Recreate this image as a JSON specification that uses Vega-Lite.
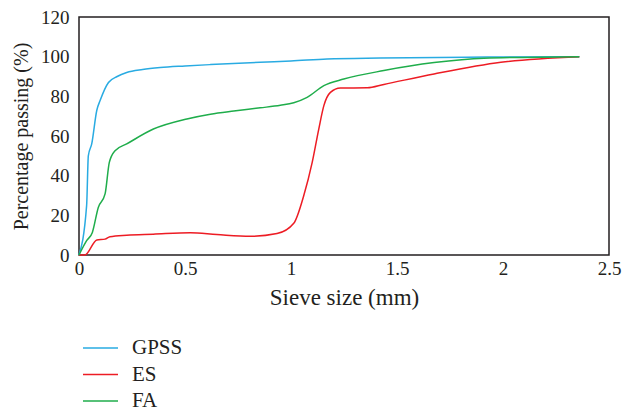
{
  "$schema": "https://vega.github.io/schema/vega-lite/v6.json",
  "width": 530,
  "height": 238,
  "autosize": "none",
  "padding": {"left": 79, "top": 17, "right": 13, "bottom": 155},
  "background": "white",
  "config": {
    "view": {"stroke": "#231f20", "strokeWidth": 1.5},
    "font": "Liberation Serif, Times New Roman, serif"
  },
  "data": {
    "values": [
      {"s": "GPSS", "x": 0, "y": 0},
      {"s": "GPSS", "x": 0.036, "y": 25},
      {"s": "GPSS", "x": 0.044, "y": 50},
      {"s": "GPSS", "x": 0.06, "y": 56},
      {"s": "GPSS", "x": 0.084, "y": 73},
      {"s": "GPSS", "x": 0.1, "y": 78},
      {"s": "GPSS", "x": 0.139, "y": 87},
      {"s": "GPSS", "x": 0.18, "y": 90},
      {"s": "GPSS", "x": 0.225, "y": 92},
      {"s": "GPSS", "x": 0.3, "y": 93.5},
      {"s": "GPSS", "x": 0.383, "y": 94.5},
      {"s": "GPSS", "x": 0.5, "y": 95.3},
      {"s": "GPSS", "x": 0.62, "y": 96},
      {"s": "GPSS", "x": 0.855, "y": 97.2},
      {"s": "GPSS", "x": 1.0, "y": 97.8},
      {"s": "GPSS", "x": 1.17, "y": 98.8},
      {"s": "GPSS", "x": 1.42, "y": 99.3},
      {"s": "GPSS", "x": 1.83, "y": 99.7},
      {"s": "GPSS", "x": 2.36, "y": 100},
      {"s": "ES", "x": 0, "y": 0},
      {"s": "ES", "x": 0.028, "y": 0},
      {"s": "ES", "x": 0.084, "y": 7.6},
      {"s": "ES", "x": 0.123, "y": 8},
      {"s": "ES", "x": 0.146, "y": 9.2},
      {"s": "ES", "x": 0.225, "y": 10},
      {"s": "ES", "x": 0.35, "y": 10.5},
      {"s": "ES", "x": 0.525, "y": 11.2},
      {"s": "ES", "x": 0.65, "y": 10.3},
      {"s": "ES", "x": 0.808, "y": 9.4},
      {"s": "ES", "x": 0.934, "y": 10.8},
      {"s": "ES", "x": 1.013, "y": 16},
      {"s": "ES", "x": 1.06, "y": 29.9},
      {"s": "ES", "x": 1.1, "y": 46.7},
      {"s": "ES", "x": 1.131, "y": 63.5},
      {"s": "ES", "x": 1.155, "y": 75.3},
      {"s": "ES", "x": 1.186, "y": 82},
      {"s": "ES", "x": 1.233, "y": 84.2},
      {"s": "ES", "x": 1.36, "y": 84.3},
      {"s": "ES", "x": 1.438, "y": 86},
      {"s": "ES", "x": 1.675, "y": 91.3},
      {"s": "ES", "x": 1.99, "y": 97.2},
      {"s": "ES", "x": 2.36, "y": 100},
      {"s": "FA", "x": 0, "y": 0},
      {"s": "FA", "x": 0.036, "y": 7.2},
      {"s": "FA", "x": 0.063, "y": 11.4},
      {"s": "FA", "x": 0.091, "y": 24},
      {"s": "FA", "x": 0.123, "y": 30.8},
      {"s": "FA", "x": 0.143, "y": 46.7},
      {"s": "FA", "x": 0.17, "y": 52.6},
      {"s": "FA", "x": 0.225, "y": 56},
      {"s": "FA", "x": 0.351, "y": 63.5},
      {"s": "FA", "x": 0.509, "y": 68.6},
      {"s": "FA", "x": 0.62, "y": 71},
      {"s": "FA", "x": 0.73, "y": 72.6},
      {"s": "FA", "x": 0.855, "y": 74.2},
      {"s": "FA", "x": 0.95, "y": 75.5},
      {"s": "FA", "x": 1.013, "y": 76.8},
      {"s": "FA", "x": 1.076, "y": 79.5},
      {"s": "FA", "x": 1.155, "y": 85.4},
      {"s": "FA", "x": 1.249, "y": 88.7},
      {"s": "FA", "x": 1.438, "y": 93},
      {"s": "FA", "x": 1.675, "y": 97},
      {"s": "FA", "x": 1.91, "y": 99.2},
      {"s": "FA", "x": 2.36, "y": 100}
    ]
  },
  "mark": {"type": "line", "interpolate": "monotone", "strokeWidth": 1.5},
  "encoding": {
    "x": {
      "field": "x", "type": "quantitative",
      "scale": {"domain": [0, 2.5], "nice": false},
      "axis": {
        "title": "Sieve size (mm)", "values": [0, 0.5, 1, 1.5, 2, 2.5], "format": "~g",
        "grid": false, "ticks": false, "domain": false,
        "labelFontSize": 19, "labelColor": "#231f20", "labelPadding": 4,
        "labelFont": "Liberation Serif, Times New Roman, serif", "labelFlush": false,
        "titleFont": "Liberation Serif, Times New Roman, serif", "titleFontSize": 23, "titleFontWeight": "normal",
        "titleColor": "#231f20", "titlePadding": 8
      }
    },
    "y": {
      "field": "y", "type": "quantitative",
      "scale": {"domain": [0, 120], "nice": false},
      "axis": {
        "title": "Percentage passing (%)", "values": [0, 20, 40, 60, 80, 100, 120],
        "grid": false, "ticks": false, "domain": false,
        "labelFontSize": 19, "labelColor": "#231f20", "labelPadding": 10,
        "labelFont": "Liberation Serif, Times New Roman, serif",
        "titleFont": "Liberation Serif, Times New Roman, serif", "titleFontSize": 20, "titleFontWeight": "normal",
        "titleColor": "#231f20", "titlePadding": 9
      }
    },
    "color": {
      "field": "s", "type": "nominal",
      "scale": {"domain": ["GPSS", "ES", "FA"], "range": ["#29abe2", "#ed1c24", "#1fad4b"]},
      "legend": {
        "title": null, "orient": "none", "legendX": 3, "legendY": 318,
        "symbolType": "stroke", "symbolSize": 1225, "symbolStrokeWidth": 1.5,
        "labelFont": "Liberation Serif, Times New Roman, serif", "labelFontSize": 21, "labelColor": "#231f20",
        "labelOffset": 13, "rowPadding": 0.5, "clipHeight": 26
      }
    }
  }
}
